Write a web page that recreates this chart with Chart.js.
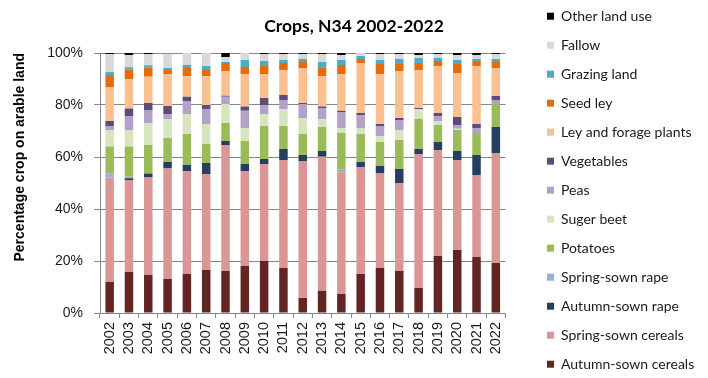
<!DOCTYPE html>
<html>
<head>
<meta charset="utf-8">
<script src="https://cdn.jsdelivr.net/npm/chart.js@4.4.1/dist/chart.umd.min.js"></script>
<style>
  html, body { margin: 0; padding: 0; background: #fff; }
  #wrap { position: relative; width: 708px; height: 378px; }
</style>
</head>
<body>
<div id="wrap"><canvas id="c" width="708" height="378"></canvas></div>
<script>
const TITLE = 'Crops, N34 2002-2022';
const Y_TITLE = 'Percentage crop on arable land';
const years = ['2002','2003','2004','2005','2006','2007','2008','2009','2010','2011','2012','2013','2014','2015','2016','2017','2018','2019','2020','2021','2022'];
const yTicks = [0, 20, 40, 60, 80, 100];

const autumnCereals = [11.9,15.8,14.6,13.1,15.0,16.5,16.2,18.1,20.0,17.3,5.8,8.6,7.3,15.0,17.3,16.2,9.6,21.9,24.2,21.5,19.2];
const springCereals = [40.2,35.4,37.5,42.5,39.6,37.0,48.4,36.5,37.3,41.5,52.7,51.5,46.8,41.2,36.5,33.8,51.6,40.8,34.6,31.6,42.3];
const autumnRape    = [0,0.6,1.6,2.5,2.3,4.2,1.6,2.7,1.9,4.3,2.3,2.2,0,1.9,2.7,5.4,1.9,3.1,3.5,7.7,10.0];
const springRape    = [1.6,0.6,0,0,0,0,0,0,0,0,0,0,1.2,0,0,0,0,0,0,0,0];
const potatoes      = [10.3,11.6,10.9,9.2,11.9,7.3,6.9,8.9,12.7,8.8,8.0,9.2,13.9,10.7,9.3,11.1,11.5,6.5,8.1,8.4,8.9];
const sugerBeet     = [6.4,6.4,8.5,7.3,7.7,7.7,7.3,5.0,4.6,6.6,6.2,3.1,2.0,2.4,2.3,3.9,3.9,1.5,0.5,0,0];
const peas          = [1.5,5.4,5.0,1.9,5.0,5.8,2.8,6.6,3.5,3.4,5.4,4.2,6.1,5.0,3.8,3.8,0,2.0,1.4,2.0,1.5];
const vegetables    = [1.9,2.9,2.7,3.1,1.7,1.5,0.4,1.6,2.7,1.9,0.4,0.6,0.5,0.7,0.8,0.8,0.3,1.1,3.1,1.5,1.6];
const leyForage     = [12.9,11.3,10.1,12.3,8.0,11.2,9.5,12.5,9.2,9.7,13.4,11.8,14.1,19.3,19.2,18.1,14.7,18.1,16.9,22.3,10.7];
const seedLey       = [4.8,3.7,3.6,1.6,3.0,2.3,3.1,2.7,3.1,2.7,2.3,3.3,3.5,1.5,3.9,2.7,2.7,1.9,3.5,1.9,2.3];
const grazingLand   = [1.2,0.8,0.8,0.7,1.2,1.5,0.3,2.7,1.9,1.1,1.2,2.0,1.9,1.1,1.5,1.9,1.9,1.2,1.5,0.8,1.2];
const fallow        = [6.9,4.7,4.3,5.6,4.6,5.0,2.0,2.7,2.6,2.3,1.9,3.1,1.9,1.2,2.3,1.9,1.1,1.5,1.9,1.5,1.9];
const otherLandUse  = [0.4,0.8,0.4,0.2,0,0,1.5,0,0.5,0.4,0.4,0.4,0.8,0,0.4,0.4,0.8,0.4,0.8,0.8,0.4];

const series = [
  ['Autumn-sown cereals', autumnCereals, '#632523'],
  ['Spring-sown cereals', springCereals, '#d99694'],
  ['Autumn-sown rape', autumnRape, '#243f60'],
  ['Spring-sown rape', springRape, '#95b3d7'],
  ['Potatoes', potatoes, '#9bbb59'],
  ['Suger beet', sugerBeet, '#d7e4bd'],
  ['Peas', peas, '#b3a2c7'],
  ['Vegetables', vegetables, '#604a7b'],
  ['Ley and forage plants', leyForage, '#fac090'],
  ['Seed ley', seedLey, '#e46c0a'],
  ['Grazing land', grazingLand, '#4bacc6'],
  ['Fallow', fallow, '#d9d9d9'],
  ['Other land use', otherLandUse, '#000000']
];

const datasets = series.map(([label, data, color]) => ({
  label, data, backgroundColor: color, borderWidth: 0,
  barPercentage: 0.44, categoryPercentage: 1.0
}));

const sideDecor = {
  id: 'sideDecor',
  afterDraw(chart) {
    const ctx = chart.ctx;
    const ds = chart.data.datasets;
    ctx.save();
    // title
    ctx.fillStyle = '#000';
    ctx.font = 'bold 17.5px Lato';
    ctx.textAlign = 'center';
    ctx.textBaseline = 'alphabetic';
    ctx.fillText(TITLE, 354, 31.5);
    // legend (reverse order)
    ctx.textAlign = 'left';
    ctx.font = '14px Lato';
    for (let i = ds.length - 1, k = 0; i >= 0; i--, k++) {
      const base = 20.7 + k * 29;
      ctx.fillStyle = ds[i].backgroundColor;
      ctx.fillRect(547, base - 8, 7, 7);
      ctx.fillStyle = '#1a1a1a';
      ctx.fillText(ds[i].label, 561, base);
    }
    ctx.restore();
  }
};

new Chart(document.getElementById('c'), {
  type: 'bar',
  data: { labels: years, datasets },
  plugins: [sideDecor],
  options: {
    responsive: false,
    animation: false,
    layout: { padding: { top: 53, right: 202.5, bottom: 0, left: 0 } },
    plugins: {
      legend: { display: false },
      title: { display: false },
      tooltip: { enabled: false }
    },
    scales: {
      x: {
        stacked: true,
        grid: { drawOnChartArea: false, offset: true, tickLength: 5, color: '#868686' },
        border: { color: '#868686' },
        ticks: {
          autoSkip: false, minRotation: 90, maxRotation: 90, padding: 4,
          color: '#1a1a1a', font: { family: 'Liberation Sans', size: 14.5 }
        },
        afterFit: (s) => { s.height = 65; }
      },
      y: {
        stacked: true,
        min: 0, max: 100,
        afterBuildTicks: (s) => { s.ticks = yTicks.map(v => ({ value: v })); },
        grid: { color: '#868686', tickLength: 6 },
        border: { color: '#868686' },
        ticks: {
          padding: 11, color: '#1a1a1a',
          font: { family: 'Liberation Sans', size: 14 },
          callback: (v) => v + '%'
        },
        title: {
          display: true, text: Y_TITLE, align: 'end', color: '#000',
          font: { family: 'Liberation Sans', size: 14, weight: 'bold' },
          padding: { top: 12, bottom: 0 }
        },
        afterFit: (s) => { s.width = 100; }
      }
    }
  }
});
</script>
</body>
</html>
